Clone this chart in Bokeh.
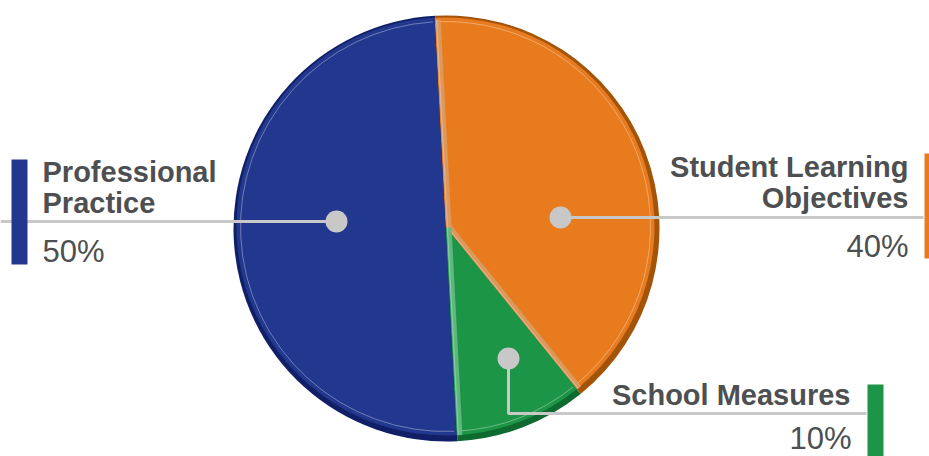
import math
from bokeh.plotting import figure
from bokeh.models import Range1d
from bokeh.core.properties import value
from bokeh.embed import file_html
from bokeh.resources import INLINE

# ---- data ----
categories = ["Student Learning Objectives", "School Measures", "Professional Practice"]
values = [40, 10, 50]
pct_labels = ["40%", "10%", "50%"]
colors = ["#e87b1e", "#1c9547", "#22388f"]
dark_colors = ["#a45408", "#0e6a2e", "#101f66"]
bevel_colors = ["#dc9a62", "#62b982", "#5a6fc0"]

W, H = 929, 456
TXT_SHIFT = 11
def Y(py):
    return 456 - py
def YT(py):
    return 456 - py + TXT_SHIFT

p = figure(width=W, height=H, output_backend="svg", toolbar_location=None,
           x_range=Range1d(0, 929), y_range=Range1d(0, 456),
           min_border=0, outline_line_color=None)
p.axis.visible = False
p.grid.visible = False
p.background_fill_color = "white"
p.border_fill_color = "white"

cx, cy, R = 446, Y(227), 213
start_deg = 93.0

# compute angles (clockwise from start)
angles = []
cur = start_deg
for v in values:
    end = cur
    begin = cur - v / sum(values) * 360.0
    angles.append((math.radians(begin), math.radians(end)))
    cur = begin

# rim / shading
for (a0, a1), c, dc in zip(angles, colors, dark_colors):
    p.wedge(x=cx, y=cy - 1, radius=R, start_angle=a0, end_angle=a1,
            fill_color=dc, line_color=None)
for (a0, a1), c, dc in zip(angles, colors, dark_colors):
    p.wedge(x=cx - 1, y=cy + 1, radius=R - 4, start_angle=a0, end_angle=a1,
            fill_color=c, line_color=None)
for (a0, a1), c in zip(angles, colors):
    p.arc(x=cx - 1, y=cy + 1, radius=R - 8, start_angle=a0 + 0.01, end_angle=a1 - 0.01,
          line_color="white", line_alpha=0.35, line_width=1)

# bevel edges along radial boundaries (orange both edges, green's clockwise edge)
def bevel(angle, inward, color):
    ox = 2.5 * math.cos(angle + inward)
    oy = 2.5 * math.sin(angle + inward)
    xe = cx + (R - 5) * math.cos(angle) + ox
    ye = cy + (R - 5) * math.sin(angle) + oy
    p.segment(x0=cx + ox, y0=cy + oy, x1=xe, y1=ye, line_color=color, line_width=5, line_alpha=0.95)
    p.segment(x0=cx + ox * 0.4, y0=cy + oy * 0.4, x1=xe - ox * 0.6, y1=ye - oy * 0.6,
              line_color="white", line_width=1, line_alpha=0.3)

bevel(angles[0][1], -math.pi / 2, bevel_colors[0])
bevel(angles[0][0], math.pi / 2, bevel_colors[0])
bevel(angles[1][0], math.pi / 2, bevel_colors[1])

# ---- labels / connectors ----
gray = "#c8c8c8"
txt = "#4d4f51"
font = value("Liberation Sans")

# left: Professional Practice
p.line(x=[0, 336], y=[Y(221), Y(221)], line_color=gray, line_width=3)
p.scatter(x=[336], y=[Y(221)], size=22, fill_color=gray, line_color=None)
p.quad(left=11, right=27, top=Y(159), bottom=Y(264), fill_color=colors[2], line_color=None)
p.text(x=[42, 42], y=[YT(182), YT(213)], text=["Professional", "Practice"],
       text_font=font, text_font_style="bold", text_font_size="29px",
       text_color=txt, text_align="left", text_baseline="alphabetic")
p.text(x=[42], y=[YT(262)], text=[pct_labels[2]], text_font=font,
       text_font_size="31px", text_color=txt, text_align="left", text_baseline="alphabetic")

# right: Student Learning Objectives
p.line(x=[560, 923], y=[Y(217), Y(217)], line_color=gray, line_width=3)
p.scatter(x=[560], y=[Y(217)], size=22, fill_color=gray, line_color=None)
p.quad(left=924, right=940, top=Y(153), bottom=Y(258), fill_color=colors[0], line_color=None)
p.text(x=[908, 908], y=[YT(177), YT(208)], text=["Student Learning", "Objectives"],
       text_font=font, text_font_style="bold", text_font_size="29px",
       text_color=txt, text_align="right", text_baseline="alphabetic")
p.text(x=[908], y=[YT(257)], text=[pct_labels[0]], text_font=font,
       text_font_size="31px", text_color=txt, text_align="right", text_baseline="alphabetic")

# bottom right: School Measures
p.line(x=[508, 508, 866], y=[Y(358), Y(413), Y(413)], line_color=gray, line_width=3)
p.scatter(x=[508], y=[Y(358)], size=22, fill_color=gray, line_color=None)
p.quad(left=867, right=883, top=Y(384), bottom=Y(489), fill_color=colors[1], line_color=None)
p.text(x=[850], y=[YT(405)], text=["School Measures"],
       text_font=font, text_font_style="bold", text_font_size="29px",
       text_color=txt, text_align="right", text_baseline="alphabetic")
p.text(x=[851], y=[YT(449)], text=[pct_labels[1]], text_font=font,
       text_font_size="31px", text_color=txt, text_align="right", text_baseline="alphabetic")

open("out.html", "w").write(file_html(p, INLINE))
